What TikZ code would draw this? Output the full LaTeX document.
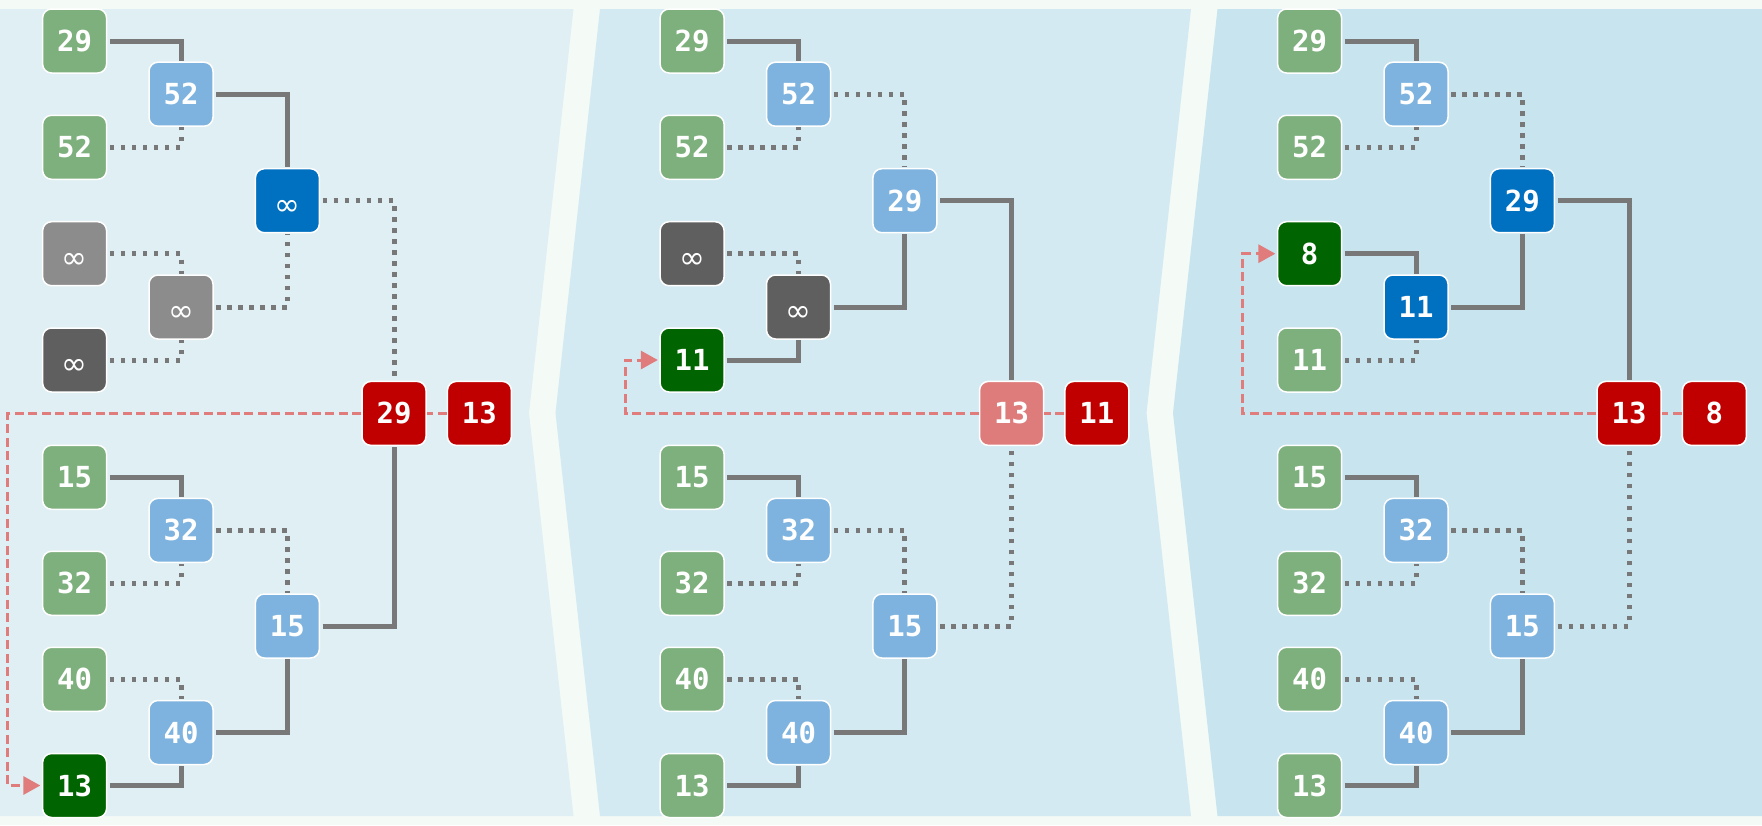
\documentclass[tikz,border=0pt]{standalone}
\usepackage{fontspec}
\usetikzlibrary{arrows.meta}
\newfontfamily\mynumfont{DejaVu Sans Mono}
\newfontfamily\mysymfont{DejaVu Sans}
\newcommand{\infsym}{\raisebox{-4pt}{\mysymfont\mdseries\fontsize{31}{31}\selectfont ∞}}
\definecolor{bgwhite}{HTML}{F4FAF6}
\definecolor{paneA}{HTML}{DFEFF3}
\definecolor{paneB}{HTML}{D3EAF2}
\definecolor{paneC}{HTML}{C8E4EE}
\definecolor{leafgreen}{HTML}{7DB07C}
\definecolor{selgreen}{HTML}{006400}
\definecolor{lightblue}{HTML}{7DB3DE}
\definecolor{hiblue}{HTML}{0070C0}
\definecolor{grayA}{HTML}{8C8C8C}
\definecolor{grayB}{HTML}{5F5F5F}
\definecolor{redA}{HTML}{C00000}
\definecolor{redB}{HTML}{DE7C7C}
\definecolor{linegray}{HTML}{787878}
\definecolor{reddash}{HTML}{E07C7C}
\begin{document}
\begin{tikzpicture}[x=1pt,y=-1pt,
  box/.style={rounded corners=9pt, minimum width=64pt, minimum height=64pt,
    draw=white, line width=1.5pt, text=white, inner sep=0pt,
    text height=21pt, text depth=0pt,
    font={\fontsize{29}{29}\mynumfont\bfseries}},
  leafg/.style={box, fill=leafgreen},
  leafsel/.style={box, fill=selgreen},
  midb/.style={box, fill=lightblue},
  hib/.style={box, fill=hiblue},
  grayn/.style={box, fill=grayA},
  dgrayn/.style={box, fill=grayB},
  redn/.style={box, fill=redA},
  lredn/.style={box, fill=redB},
  sl/.style={draw=linegray, line width=5pt, shorten <=2.5pt, shorten >=0.5pt},
  dl/.style={sl, dash pattern=on 4.5pt off 6.5pt},
  rd/.style={draw=reddash, line width=3pt, dash pattern=on 9pt off 4.5pt},
  rda/.style={rd, -{Triangle[length=17pt,width=18pt]}, shorten >=1.5pt}]
\useasboundingbox (0,0) rectangle (1762,825);
\fill[bgwhite] (0,0) rectangle (1762,825);
\fill[paneA] (0,9) -- (573.5,9) -- (529,413) -- (573.5,816) -- (0,816) -- cycle;
\fill[paneB] (600,9) -- (1191,9) -- (1146.5,413) -- (1191,816) -- (600,816) -- (555.5,413) -- cycle;
\fill[paneC] (1217.5,9) -- (1762,9) -- (1762,816) -- (1217.5,816) -- (1173,413) -- cycle;

% ---------------- panel 1
\begin{scope}
\node[leafg] (a1) at (74.6,41) {29};
\node[leafg] (a2) at (74.6,147.3) {52};
\node[grayn] (a3) at (74.6,253.7) {\infsym};
\node[dgrayn] (a4) at (74.6,360) {\infsym};
\node[leafg] (a5) at (74.6,477.3) {15};
\node[leafg] (a6) at (74.6,583.3) {32};
\node[leafg] (a7) at (74.6,679.3) {40};
\node[leafsel] (a8) at (74.6,785.5) {13};
\node[midb] (am1) at (181,94.2) {52};
\node[grayn] (am2) at (181,307) {\infsym};
\node[midb] (am3) at (181,530.4) {32};
\node[midb] (am4) at (181,732.5) {40};
\node[hib] (an1) at (287.4,200.7) {\infsym};
\node[midb] (an2) at (287.4,626) {15};
\node[redn] (ar) at (394,413.4) {29};
\node[redn] (ao) at (479.4,413.4) {13};
\coordinate (ac) at (7.6,413.4);
\end{scope}
\draw[sl] (a1.east) -| (am1.north);
\draw[dl] (a2.east) -| (am1.south);
\draw[dl] (a3.east) -| (am2.north);
\draw[dl] (a4.east) -| (am2.south);
\draw[sl] (a5.east) -| (am3.north);
\draw[dl] (a6.east) -| (am3.south);
\draw[dl] (a7.east) -| (am4.north);
\draw[sl] (a8.east) -| (am4.south);
\draw[sl] (am1.east) -| (an1.north);
\draw[dl] (am2.east) -| (an1.south);
\draw[dl] (am3.east) -| (an2.north);
\draw[sl] (am4.east) -| (an2.south);
\draw[dl] (an1.east) -| (ar.north);
\draw[sl] (an2.east) -| (ar.south);
\draw[rd] (ao.west) -- (ar.east);
\draw[rda] (ar.west) -- (ac) |- (a8.west);

% ---------------- panel 2
\begin{scope}[xshift=617.5pt]
\node[leafg] (b1) at (74.6,41) {29};
\node[leafg] (b2) at (74.6,147.3) {52};
\node[dgrayn] (b3) at (74.6,253.7) {\infsym};
\node[leafsel] (b4) at (74.6,360) {11};
\node[leafg] (b5) at (74.6,477.3) {15};
\node[leafg] (b6) at (74.6,583.3) {32};
\node[leafg] (b7) at (74.6,679.3) {40};
\node[leafg] (b8) at (74.6,785.5) {13};
\node[midb] (bm1) at (181,94.2) {52};
\node[dgrayn] (bm2) at (181,307) {\infsym};
\node[midb] (bm3) at (181,530.4) {32};
\node[midb] (bm4) at (181,732.5) {40};
\node[midb] (bn1) at (287.4,200.7) {29};
\node[midb] (bn2) at (287.4,626) {15};
\node[lredn] (br) at (394,413.4) {13};
\node[redn] (bo) at (479.4,413.4) {11};
\coordinate (bc) at (7.6,413.4);
\end{scope}
\draw[sl] (b1.east) -| (bm1.north);
\draw[dl] (b2.east) -| (bm1.south);
\draw[dl] (b3.east) -| (bm2.north);
\draw[sl] (b4.east) -| (bm2.south);
\draw[sl] (b5.east) -| (bm3.north);
\draw[dl] (b6.east) -| (bm3.south);
\draw[dl] (b7.east) -| (bm4.north);
\draw[sl] (b8.east) -| (bm4.south);
\draw[dl] (bm1.east) -| (bn1.north);
\draw[sl] (bm2.east) -| (bn1.south);
\draw[dl] (bm3.east) -| (bn2.north);
\draw[sl] (bm4.east) -| (bn2.south);
\draw[sl] (bn1.east) -| (br.north);
\draw[dl] (bn2.east) -| (br.south);
\draw[rd] (bo.west) -- (br.east);
\draw[rda] (br.west) -- (bc) |- (b4.west);

% ---------------- panel 3
\begin{scope}[xshift=1235pt]
\node[leafg] (c1) at (74.6,41) {29};
\node[leafg] (c2) at (74.6,147.3) {52};
\node[leafsel] (c3) at (74.6,253.7) {8};
\node[leafg] (c4) at (74.6,360) {11};
\node[leafg] (c5) at (74.6,477.3) {15};
\node[leafg] (c6) at (74.6,583.3) {32};
\node[leafg] (c7) at (74.6,679.3) {40};
\node[leafg] (c8) at (74.6,785.5) {13};
\node[midb] (cm1) at (181,94.2) {52};
\node[hib] (cm2) at (181,307) {11};
\node[midb] (cm3) at (181,530.4) {32};
\node[midb] (cm4) at (181,732.5) {40};
\node[hib] (cn1) at (287.4,200.7) {29};
\node[midb] (cn2) at (287.4,626) {15};
\node[redn] (cr) at (394,413.4) {13};
\node[redn] (co) at (479.4,413.4) {8};
\coordinate (cc) at (7.6,413.4);
\end{scope}
\draw[sl] (c1.east) -| (cm1.north);
\draw[dl] (c2.east) -| (cm1.south);
\draw[sl] (c3.east) -| (cm2.north);
\draw[dl] (c4.east) -| (cm2.south);
\draw[sl] (c5.east) -| (cm3.north);
\draw[dl] (c6.east) -| (cm3.south);
\draw[dl] (c7.east) -| (cm4.north);
\draw[sl] (c8.east) -| (cm4.south);
\draw[dl] (cm1.east) -| (cn1.north);
\draw[sl] (cm2.east) -| (cn1.south);
\draw[dl] (cm3.east) -| (cn2.north);
\draw[sl] (cm4.east) -| (cn2.south);
\draw[sl] (cn1.east) -| (cr.north);
\draw[dl] (cn2.east) -| (cr.south);
\draw[rd] (co.west) -- (cr.east);
\draw[rda] (cr.west) -- (cc) |- (c3.west);
\end{tikzpicture}
\end{document}
